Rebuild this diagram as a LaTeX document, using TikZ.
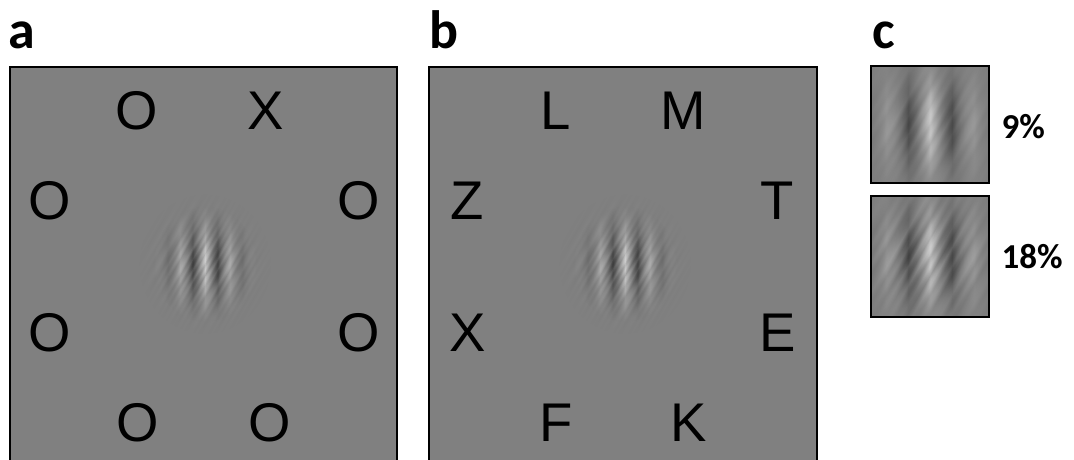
\documentclass[tikz,border=0pt]{standalone}
\usepackage{fontspec}
\setmainfont{Liberation Sans}
\newfontfamily\labelfontb{Carlito}[BoldFont=* Bold]
\usetikzlibrary{fadings}

\definecolor{screen}{gray}{0.5}
\definecolor{stripelight}{gray}{0.80}
\definecolor{stripedark}{gray}{0.22}
\providecolor{pgftransparent}{gray}{0}

% vertical grating (colour varies along the horizontal axis)
\pgfdeclarehorizontalshading{gratingshade}{100bp}{%
  color(0bp)=(screen); color(8bp)=(screen);
  color(14bp)=(stripelight); color(20bp)=(stripedark);
  color(26bp)=(stripelight); color(32bp)=(stripedark);
  color(38bp)=(stripelight); color(44bp)=(stripedark);
  color(50bp)=(stripelight); color(56bp)=(stripedark);
  color(62bp)=(stripelight); color(68bp)=(stripedark);
  color(74bp)=(stripelight); color(80bp)=(stripedark);
  color(86bp)=(stripelight); color(92bp)=(screen); color(100bp)=(screen)}

% fine irregular streaks used as oriented noise
\pgfdeclarehorizontalshading{noiseshade}{100bp}{%
  color(0bp)=(screen); color(24bp)=(screen);
  color(25bp)=(black!44); color(26bp)=(black!57); color(27bp)=(black!47);
  color(28bp)=(black!61); color(29bp)=(black!50); color(30bp)=(black!40);
  color(31bp)=(black!55); color(32bp)=(black!46); color(33bp)=(black!60);
  color(34bp)=(black!49); color(35bp)=(black!39); color(36bp)=(black!53);
  color(37bp)=(black!62); color(38bp)=(black!45); color(39bp)=(black!56);
  color(40bp)=(black!41); color(41bp)=(black!59); color(42bp)=(black!50);
  color(43bp)=(black!38); color(44bp)=(black!57); color(45bp)=(black!46);
  color(46bp)=(black!62); color(47bp)=(black!43); color(48bp)=(black!54);
  color(49bp)=(black!40); color(50bp)=(black!58); color(51bp)=(black!48);
  color(52bp)=(black!61); color(53bp)=(black!42); color(54bp)=(black!55);
  color(55bp)=(black!45); color(56bp)=(black!60); color(57bp)=(black!47);
  color(58bp)=(black!38); color(59bp)=(black!56); color(60bp)=(black!44);
  color(61bp)=(black!61); color(62bp)=(black!49); color(63bp)=(black!41);
  color(64bp)=(black!57); color(65bp)=(black!46); color(66bp)=(black!62);
  color(67bp)=(black!43); color(68bp)=(black!54); color(69bp)=(black!39);
  color(70bp)=(black!58); color(71bp)=(black!47); color(72bp)=(black!60);
  color(73bp)=(black!44); color(74bp)=(black!55); color(75bp)=(screen);
  color(100bp)=(screen)}

% Gaussian envelopes: 25bp is the edge of the patch
\pgfdeclareradialshading{gaussenv}{\pgfpoint{0bp}{0bp}}{%
  color(0bp)=(pgftransparent!0); color(5bp)=(pgftransparent!12);
  color(10bp)=(pgftransparent!39); color(15bp)=(pgftransparent!68);
  color(20bp)=(pgftransparent!87); color(25bp)=(pgftransparent!100);
  color(50bp)=(pgftransparent!100)}
\pgfdeclarefading{gaborfade}{\pgfuseshading{gaussenv}}
\pgfdeclareradialshading{gaussenvtight}{\pgfpoint{0bp}{0bp}}{%
  color(0bp)=(pgftransparent!0); color(3bp)=(pgftransparent!8);
  color(6bp)=(pgftransparent!27); color(9bp)=(pgftransparent!51);
  color(12bp)=(pgftransparent!72); color(15bp)=(pgftransparent!86);
  color(18bp)=(pgftransparent!94); color(21bp)=(pgftransparent!98);
  color(25bp)=(pgftransparent!100); color(50bp)=(pgftransparent!100)}
\pgfdeclarefading{gaborfadetight}{\pgfuseshading{gaussenvtight}}

% Gabor patch: #1 centre, #2 scale, #3 envelope fading, #4 noise strength
\newcommand\gaborpatch[4]{%
  \path[shading=gratingshade, path fading=#3]
    (#1) ellipse [x radius=52*#2, y radius=58*#2];
  \begin{scope}[blend mode=hard light]
    \path[shading=noiseshade, shading angle=-30, path fading=#3, fill opacity=#4]
      (#1) ellipse [x radius=66*#2, y radius=70*#2];
  \end{scope}}

\tikzset{
  screenbox/.style={draw=black, line width=1.6pt, fill=screen},
  letter/.style={font=\fontsize{54.5}{54.5}\selectfont, anchor=base, inner sep=0pt},
  panellabel/.style={font=\labelfontb\bfseries\fontsize{54}{54}\selectfont, anchor=base, inner sep=0pt},
  pctlabel/.style={font=\labelfontb\bfseries\fontsize{35}{35}\selectfont, anchor=base west, inner sep=0pt}
}

\begin{document}
\begin{tikzpicture}[x=1pt,y=-1pt]
\useasboundingbox (0,0) rectangle (1074,460);
\clip (0,0) rectangle (1074,460);

% panel labels
\node[panellabel] (la) at (21.5,49) {a};
\node[panellabel] (lb) at (444,49) {b};
\node[panellabel] (lc) at (884,49) {c};

% panel a: crowded display
\draw[screenbox] (10,67) rectangle (397,465);
\gaborpatch{205,264}{1}{gaborfade}{0.7}
\node[letter] (a1) at (137,129) {O};
\node[letter] (a2) at (265.5,129) {X};
\node[letter] (a3) at (49.5,219) {O};
\node[letter] (a4) at (359,219) {O};
\node[letter] (a5) at (49.5,351.5) {O};
\node[letter] (a6) at (359,351.5) {O};
\node[letter] (a7) at (137.5,441) {O};
\node[letter] (a8) at (270,441) {O};

% panel b: letter display
\draw[screenbox] (429,67) rectangle (817,465);
\gaborpatch{625,264}{1}{gaborfade}{0.7}
\node[letter] (b1) at (556,129) {L};
\node[letter] (b2) at (683.5,129) {M};
\node[letter] (b3) at (467.5,219) {Z};
\node[letter] (b4) at (777.5,219) {T};
\node[letter] (b5) at (468,351.5) {X};
\node[letter] (b6) at (777.5,351.5) {E};
\node[letter] (b7) at (556.5,441) {F};
\node[letter] (b8) at (689,441) {K};

% panel c: noise levels
\begin{scope}
  \clip (871,66) rectangle (989,183);
  \fill[screen] (871,66) rectangle (989,183);
  \gaborpatch{930,124.5}{1.76}{gaborfadetight}{0.4}
\end{scope}
\draw[black, line width=1.6pt] (871,66) rectangle (989,183);
\node[pctlabel] (p9) at (1001.5,139) {9\%};

\begin{scope}
  \clip (871,196) rectangle (989,317);
  \fill[screen] (871,196) rectangle (989,317);
  \gaborpatch{930,256.5}{1.76}{gaborfadetight}{0.8}
\end{scope}
\draw[black, line width=1.6pt] (871,196) rectangle (989,317);
\node[pctlabel] (p18) at (1001.5,268) {18\%};
\end{tikzpicture}
\end{document}
